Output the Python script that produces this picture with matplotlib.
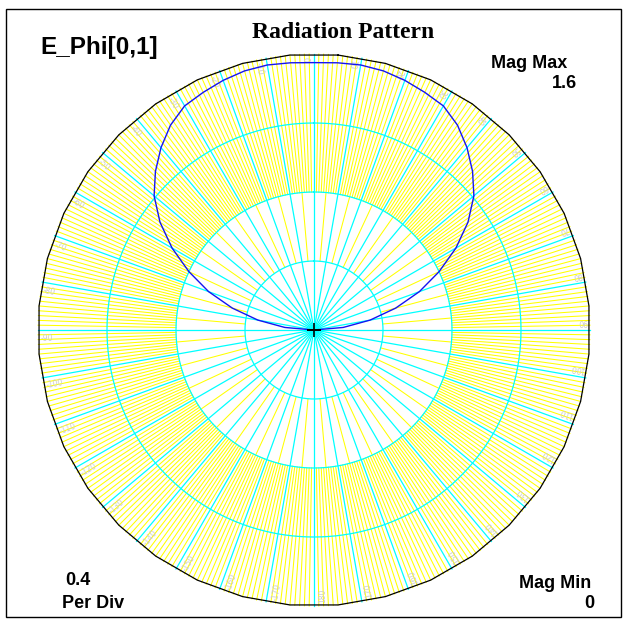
import numpy as np
import matplotlib
matplotlib.use('Agg')
import matplotlib.pyplot as plt
from matplotlib.patches import Rectangle

# ---- data ----
pattern_deg = [-90, -85, -80, -75, -70, -65, -60, -55, -50, -45, -40, -35, -30, -25, -20, -15, -10, -5,
               0, 5, 10, 15, 20, 25, 30, 35, 40, 45, 50, 55, 60, 65, 70, 75, 80, 85, 90]
pattern_mag = [0.0, 0.17, 0.33, 0.49, 0.65, 0.80, 0.95, 1.09, 1.21, 1.30, 1.38, 1.45, 1.50, 1.52, 1.54, 1.555, 1.56, 1.555,
               1.55, 1.555, 1.56, 1.555, 1.54, 1.52, 1.50, 1.45, 1.38, 1.30, 1.21, 1.09, 0.95, 0.80, 0.65, 0.49, 0.33, 0.17, 0.0]
ring_radii = [0.4, 0.8, 1.2]
mag_max = 1.6
mag_min = 0
per_div = 0.4
label_deg = list(range(-170, 190, 10))

W, H = 624, 619
cx, cy, R = 314, 330, 276  # centre and radius of the polar plot in pixels

fig = plt.figure(figsize=(W / 100, H / 100), dpi=100)
ax = fig.add_axes([(cx - R) / W, (H - cy - R) / H, 2 * R / W, 2 * R / H], projection='polar')
ax.set_theta_zero_location('N')
ax.set_theta_direction(-1)
ax.set_ylim(0, mag_max)
ax.axis('off')

yellow = '#ffff00'
cyan = '#00ffff'

# fine yellow spokes: 1 deg in the outer rings, 5 deg from the first ring
for d in range(360):
    if d % 10 == 0:
        continue
    r0 = ring_radii[0] if d % 5 == 0 else ring_radii[1]
    th = np.deg2rad(d)
    ax.plot([th, th], [r0, mag_max], color=yellow, lw=0.75, clip_on=False, zorder=1)

# cyan spokes every 10 deg
for d in range(0, 360, 10):
    th = np.deg2rad(d)
    ax.plot([th, th], [0, mag_max], color=cyan, lw=0.9, clip_on=False, zorder=2)

# cyan rings
circ = np.linspace(0, 2 * np.pi, 721)
for r in ring_radii:
    ax.plot(circ, np.full_like(circ, r), color=cyan, lw=0.9, clip_on=False, zorder=2)

# outer boundary drawn as a 36-sided polygon
poly = np.deg2rad(np.arange(5, 366, 10))
ax.plot(poly, np.full_like(poly, mag_max), color='black', lw=0.9, clip_on=False, zorder=3)

# angle labels (faint)
for d in label_deg:
    a = np.deg2rad(d - 1.8)
    rot = np.degrees(np.arctan2(-np.cos(np.deg2rad(d)), -np.sin(np.deg2rad(d))))
    ax.text(a, 1.585, str(d), color='#cccccc', fontsize=5.5, rotation=rot,
            rotation_mode='anchor', ha='left', va='center', zorder=3)

# pattern
ax.plot(np.deg2rad(pattern_deg), pattern_mag, color='#1414f0', lw=1.0, clip_on=False, zorder=4)
ax.plot(0, 0, marker='+', color='black', ms=10, mew=1.2, zorder=5)

# frame
fig.add_artist(Rectangle((6 / W, 1 - 617 / H), 615 / W, 608 / H, transform=fig.transFigure,
                         fill=False, ec='black', lw=1))


def put(x, y, s, **kw):
    fig.text(x / W, 1 - y / H, s, **kw)


sans = dict(family='Liberation Sans', weight='bold')
put(343, 38, 'Radiation Pattern', family='Liberation Serif', weight='bold', fontsize=17,
    ha='center', va='baseline')
put(40, 54, 'E_Phi[0,1]', fontsize=17.5, ha='left', va='baseline', **sans)
put(491, 68, 'Mag Max', fontsize=13, ha='left', va='baseline', **sans)
put(577, 88, f'{mag_max:g}', fontsize=13, ha='right', va='baseline', **sans)
put(65, 585, f'{per_div:g}', fontsize=13, ha='left', va='baseline', **sans)
put(62, 608, 'Per Div', fontsize=13, ha='left', va='baseline', **sans)
put(519, 588, 'Mag Min', fontsize=13, ha='left', va='baseline', **sans)
put(594, 608, f'{mag_min:g}', fontsize=13, ha='right', va='baseline', **sans)

fig.savefig('out.png', dpi=100)
